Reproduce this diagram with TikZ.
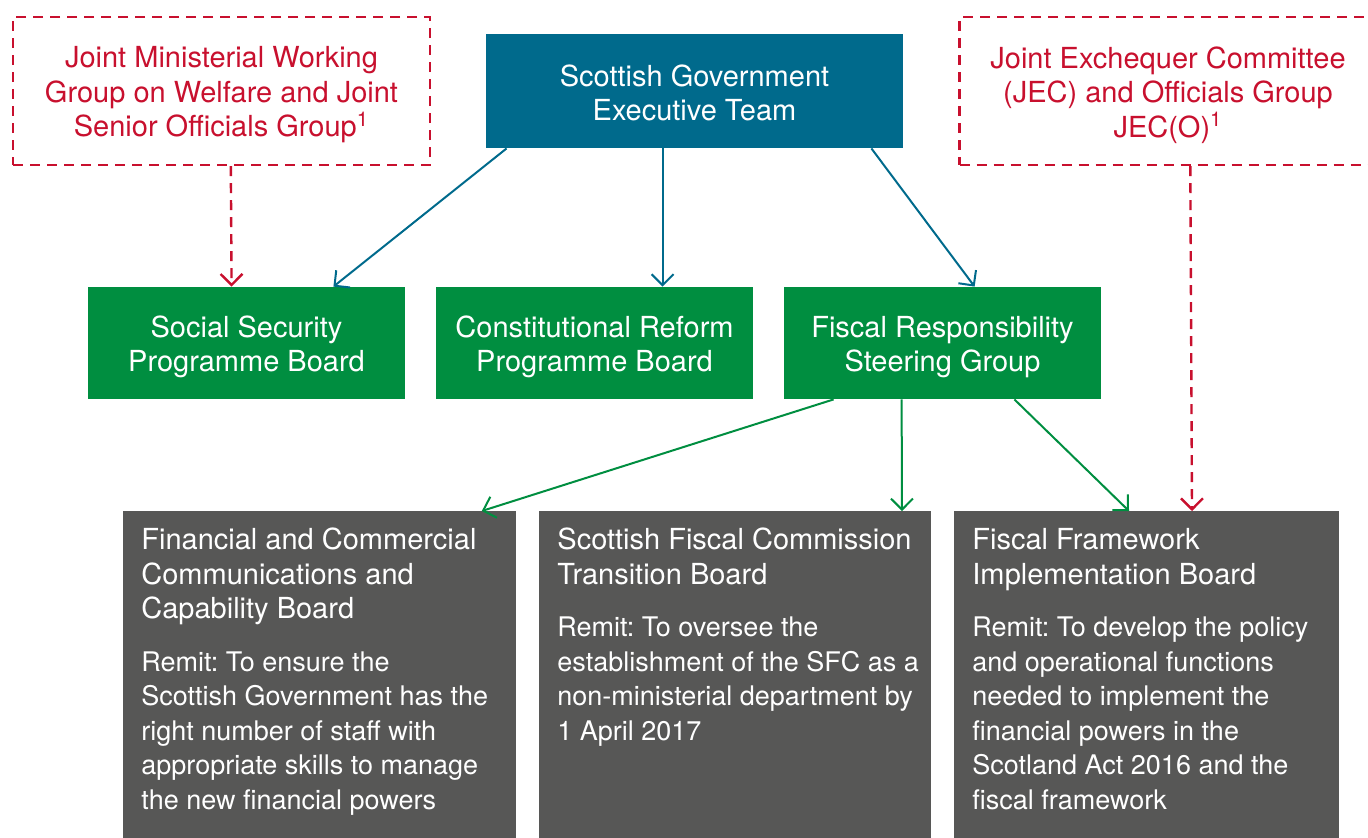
\documentclass[tikz,border=0pt]{standalone}
\usepackage{fontspec}
\setmainfont{TeX Gyre Heros}
\usetikzlibrary{arrows.meta}
\definecolor{execteal}{RGB}{0,106,140}
\definecolor{boardgreen}{RGB}{0,142,64}
\definecolor{jointred}{RGB}{200,16,46}
\definecolor{remitgrey}{RGB}{87,87,86}
\newcommand{\boxfont}{\fontsize{14.5}{17.25}\selectfont}
\newcommand{\remitfont}{\fontsize{13.5}{17.25}\selectfont}
\newcommand{\dropstrut}[1]{\rule{0pt}{#1}}
\begin{document}
\begin{tikzpicture}[
		x=0.5pt, y=-0.5pt,
		every node/.style={font=\boxfont, align=center, inner sep=0pt},
		execbox/.style={rectangle, fill=execteal, text=white, minimum width=208.5pt, minimum height=57pt},
		progbox/.style={rectangle, fill=boardgreen, text=white, minimum width=158.5pt, minimum height=56pt},
		jointbox/.style={rectangle, draw=jointred, text=jointred, line width=1.2pt, dash pattern=on 5pt off 3.5pt, minimum width=208.5pt, minimum height=74pt},
		remitbox/.style={rectangle, fill=remitgrey, text=white, anchor=north west, align=left, inner xsep=9pt, inner ysep=7pt},
		execarrow/.style={draw=execteal, line width=1pt, -{Straight Barb[length=5.5pt,width=11pt]}},
		progarrow/.style={draw=boardgreen, line width=1pt, -{Straight Barb[length=5.5pt,width=11pt]}},
		jointarrow/.style={draw=jointred, line width=1.2pt, dash pattern=on 5pt off 3.5pt, -{Straight Barb[length=5.5pt,width=11pt]}}
	]
	\useasboundingbox (0,0) rectangle (1368,837);
	\node[execbox] (exec) at (694.5,91) {\dropstrut{12.6pt}Scottish Government\\Executive Team};
	\node[jointbox] (jmwg) at (221.5,91) {\dropstrut{14.6pt}Joint Ministerial Working\\Group on Welfare and Joint\\Senior Officials Group\textsuperscript{1}};
	\node[jointbox] (jec) at (1168,91) {\dropstrut{14.6pt}Joint Exchequer Committee\\(JEC) and Officials Group\\JEC(O)\textsuperscript{1}};
	\node[progbox] (sspb) at (246.5,343) {\dropstrut{14.6pt}Social Security\\Programme Board};
	\node[progbox] (crpb) at (594.5,343) {\dropstrut{14.6pt}Constitutional Reform\\Programme Board};
	\node[progbox] (frsg) at (942.5,343) {\dropstrut{14.6pt}Fiscal Responsibility\\Steering Group};
	\node[remitbox] (fccb) at (123,511) {\parbox[t][151pt][t]{178.5pt}{\frenchspacing
			\begin{tabular}[t]{@{}l@{}}
				Financial and Commercial\\Communications and\\Capability Board\\[9pt]
				\remitfont Remit: To ensure the\\\remitfont Scottish Government has the\\\remitfont right number of staff with\\\remitfont appropriate skills to manage\\\remitfont the new financial powers
			\end{tabular}}};
	\node[remitbox] (sfct) at (539,511) {\parbox[t][151pt][t]{178pt}{\frenchspacing
			\begin{tabular}[t]{@{}l@{}}
				Scottish Fiscal Commission\\Transition Board\\[9pt]
				\remitfont Remit: To oversee the\\\remitfont establishment of the SFC as a\\\remitfont non-ministerial department by\\\remitfont 1 April 2017
			\end{tabular}}};
	\node[remitbox] (ffib) at (954,511) {\parbox[t][151pt][t]{174.5pt}{\frenchspacing
			\begin{tabular}[t]{@{}l@{}}
				Fiscal Framework\\Implementation Board\\[9pt]
				\remitfont Remit: To develop the policy\\\remitfont and operational functions\\\remitfont needed to implement the\\\remitfont financial powers in the\\\remitfont Scotland Act 2016 and the\\\remitfont fiscal framework
			\end{tabular}}};
	\draw[execarrow] ([xshift=10.5pt]exec.south west) -- ([xshift=-36pt]sspb.north east);
	\draw[execarrow] ([xshift=88.5pt]exec.south west) -- ([xshift=113.5pt]crpb.north west);
	\draw[execarrow] ([xshift=-16pt]exec.south east) -- ([xshift=95.5pt]frsg.north west);
	\draw[jointarrow] ([xshift=109.5pt]jmwg.south west) -- ([xshift=72pt]sspb.north west);
	\draw[progarrow] ([xshift=25pt]frsg.south west) -- ([xshift=-17.5pt]fccb.north east);
	\draw[progarrow] ([xshift=59pt]frsg.south west) -- ([xshift=181.5pt]sfct.north west);
	\draw[progarrow] ([xshift=-43.5pt]frsg.south east) -- ([xshift=87.5pt]ffib.north west);
	\draw[jointarrow] ([xshift=116pt]jec.south west) -- ([xshift=119pt]ffib.north west);
\end{tikzpicture}
\end{document}
